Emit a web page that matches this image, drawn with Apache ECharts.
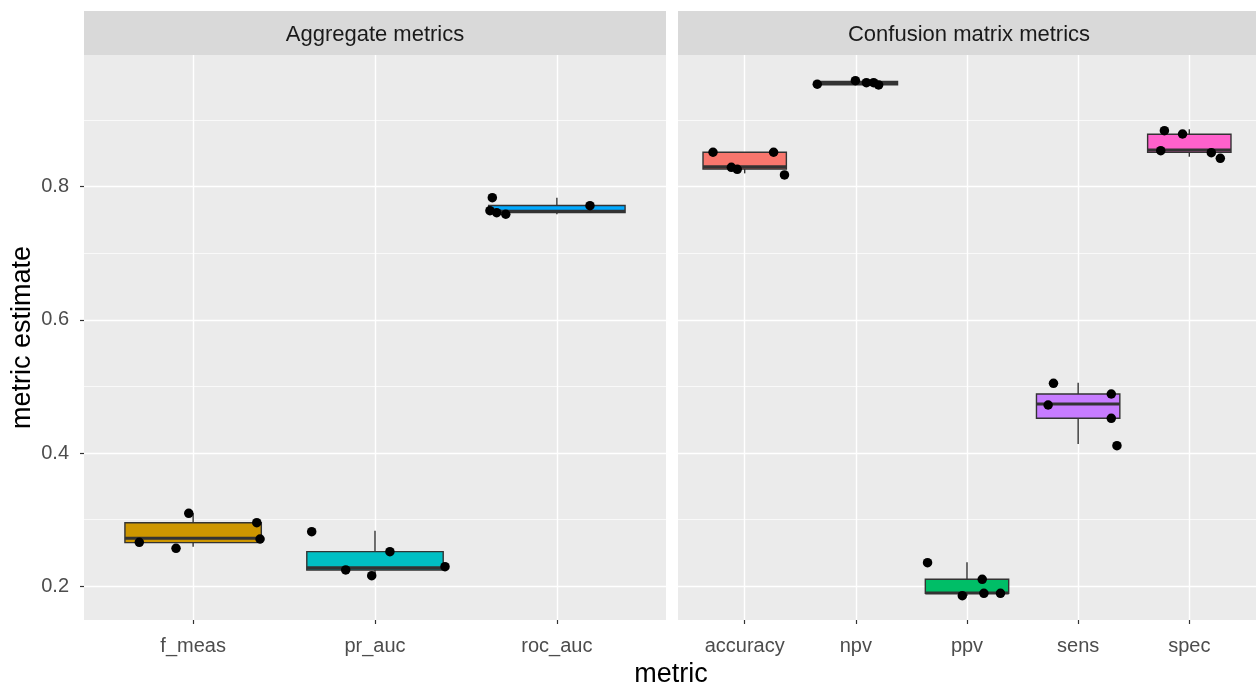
<!DOCTYPE html>
<html>
<head>
<meta charset="utf-8">
<title>metric estimate by metric</title>
<script src="https://cdn.jsdelivr.net/npm/echarts@6/dist/echarts.min.js"></script>
<style>
    html, body { margin: 0; padding: 0; background: #fff; }
    #chart { width: 1256px; height: 686px; }
</style>
</head>
<body>
<div id="chart"></div>
<script>
// panel 1: Aggregate metrics
const aggCats = ['f_meas', 'pr_auc', 'roc_auc'];
const aggFills = ['#CD9600', '#00BFC4', '#00A9FF'];
// [lower whisker, Q1, median, Q3, upper whisker]
const aggBoxes = [
    [0.2595, 0.2655, 0.2721, 0.2955, 0.3096],
    [0.2160, 0.2245, 0.2279, 0.2520, 0.2835],
    [0.7586, 0.7610, 0.7630, 0.7718, 0.7835]
];
const aggPoints = [
    [0.2661, 0.2571, 0.3096, 0.2955, 0.2710],
    [0.2820, 0.2245, 0.2159, 0.2520, 0.2294],
    [0.7835, 0.7640, 0.7610, 0.7586, 0.7715]
];
// horizontal jitter of each point, in category units
const aggJitter = [
    [-0.296, -0.094, -0.024, 0.350, 0.368],
    [-0.348, -0.161, -0.018, 0.082, 0.385],
    [-0.355, -0.368, -0.331, -0.281, 0.182]
];

// panel 2: Confusion matrix metrics
const cmCats = ['accuracy', 'npv', 'ppv', 'sens', 'spec'];
const cmFills = ['#F8766D', '#7CAE00', '#00BE67', '#C77CFF', '#FF61CC'];
const cmBoxes = [
    [0.8200, 0.8266, 0.8300, 0.8517, 0.8517],
    [0.9525, 0.9530, 0.9556, 0.9578, 0.9592],
    [0.1859, 0.1895, 0.1900, 0.2105, 0.2360],
    [0.4137, 0.4522, 0.4737, 0.4887, 0.5057],
    [0.8450, 0.8517, 0.8551, 0.8787, 0.8862]
];
const cmPoints = [
    [0.8517, 0.8291, 0.8261, 0.8517, 0.8176],
    [0.9538, 0.9592, 0.9562, 0.9562, 0.9527],
    [0.2355, 0.1859, 0.2105, 0.1895, 0.1895],
    [0.5048, 0.4722, 0.4887, 0.4522, 0.4111],
    [0.8841, 0.8791, 0.8541, 0.8511, 0.8426]
];
const cmJitter = [
    [-0.285, -0.120, -0.067, 0.260, 0.358],
    [-0.347, -0.004, 0.095, 0.160, 0.205],
    [-0.355, -0.042, 0.137, 0.152, 0.301],
    [-0.222, -0.270, 0.298, 0.298, 0.349],
    [-0.224, -0.061, -0.257, 0.198, 0.279]
];

const majorTicks = [0.2, 0.4, 0.6, 0.8];
const minorTicks = [0.3, 0.5, 0.7, 0.9];
const yMin = 0.1494;
const yMax = 0.9977;

const boxWidth = 0.75;
const fontFamily = '"Liberation Sans", Arial, sans-serif';
const tickFont = 20;
const stripFont = 22;
const titleFont = 27;

const chart = echarts.init(document.getElementById('chart'));

function boxData(boxes) {
    return boxes.map((b, i) => [i + 1].concat(b));
}

function pointData(points, jitter) {
    const out = [];
    points.forEach((vals, i) => {
        vals.forEach((v, j) => {
            out.push([i + 1 + jitter[i][j], v]);
        });
    });
    return out;
}

function makeRenderBox(fills) {
    return function (params, api) {
        const x = api.value(0);
        const lo = api.coord([x, api.value(1)]);
        const q1 = api.coord([x, api.value(2)]);
        const med = api.coord([x, api.value(3)]);
        const q3 = api.coord([x, api.value(4)]);
        const hi = api.coord([x, api.value(5)]);
        const halfW = api.size([boxWidth, 0])[0] / 2;
        const stroke = '#333333';
        return {
            type: 'group',
            children: [
                {
                    type: 'line',
                    shape: { x1: hi[0], y1: hi[1], x2: q3[0], y2: q3[1] },
                    style: { stroke: stroke, lineWidth: 1.4 }
                },
                {
                    type: 'line',
                    shape: { x1: lo[0], y1: lo[1], x2: q1[0], y2: q1[1] },
                    style: { stroke: stroke, lineWidth: 1.4 }
                },
                {
                    type: 'rect',
                    shape: { x: q1[0] - halfW, y: q3[1], width: halfW * 2, height: q1[1] - q3[1] },
                    style: { fill: fills[params.dataIndex], stroke: stroke, lineWidth: 1.4 }
                },
                {
                    type: 'line',
                    shape: { x1: med[0] - halfW, y1: med[1], x2: med[0] + halfW, y2: med[1] },
                    style: { stroke: stroke, lineWidth: 3 }
                }
            ]
        };
    };
}

function xAxisFor(gridIndex, cats) {
    const vals = cats.map((c, i) => i + 1);
    return {
        type: 'value',
        gridIndex: gridIndex,
        min: 0.4,
        max: cats.length + 0.6,
        axisLine: { show: false },
        axisTick: {
            show: true,
            customValues: vals,
            length: 4,
            lineStyle: { color: '#333333', width: 1.2 }
        },
        axisLabel: {
            customValues: vals,
            formatter: (v) => cats[Math.round(v) - 1],
            color: '#4D4D4D',
            fontSize: tickFont,
            fontFamily: fontFamily,
            margin: 16
        },
        splitLine: { show: true, lineStyle: { color: '#FFFFFF', width: 1.4 } }
    };
}

function yMajorAxis(gridIndex, showLabels) {
    return {
        type: 'value',
        gridIndex: gridIndex,
        min: yMin,
        max: yMax,
        position: 'left',
        axisLine: { show: false },
        axisTick: {
            show: showLabels,
            customValues: majorTicks,
            length: 4,
            lineStyle: { color: '#333333', width: 1.2 }
        },
        axisLabel: {
            show: showLabels,
            customValues: majorTicks,
            formatter: (v) => v.toFixed(1),
            color: '#4D4D4D',
            fontSize: tickFont,
            fontFamily: fontFamily,
            margin: 15
        },
        splitLine: { show: true, lineStyle: { color: '#FFFFFF', width: 1.4 } },
        name: showLabels ? 'metric estimate' : '',
        nameLocation: 'middle',
        nameRotate: 90,
        nameGap: 48,
        nameTextStyle: { color: '#000000', fontSize: titleFont, fontFamily: fontFamily }
    };
}

function yMinorAxis(gridIndex) {
    return {
        type: 'value',
        gridIndex: gridIndex,
        min: yMin,
        max: yMax,
        position: 'left',
        axisLine: { show: false },
        axisTick: { show: false, customValues: minorTicks },
        axisLabel: { show: false, customValues: minorTicks },
        splitLine: { show: true, lineStyle: { color: '#FFFFFF', width: 0.7 } }
    };
}

const option = {
    animation: false,
    backgroundColor: '#FFFFFF',
    grid: [
        { left: 84, top: 55, width: 582, height: 565, show: true, backgroundColor: '#EBEBEB', borderWidth: 0 },
        { left: 678, top: 55, width: 582, height: 565, show: true, backgroundColor: '#EBEBEB', borderWidth: 0 }
    ],
    xAxis: [
        xAxisFor(0, aggCats),
        xAxisFor(1, cmCats)
    ],
    yAxis: [
        yMinorAxis(0),
        yMinorAxis(1),
        yMajorAxis(0, true),
        yMajorAxis(1, false)
    ],
    graphic: [
        {
            type: 'rect',
            shape: { x: 84, y: 11, width: 582, height: 44 },
            style: { fill: '#D9D9D9' }
        },
        {
            type: 'rect',
            shape: { x: 678, y: 11, width: 582, height: 44 },
            style: { fill: '#D9D9D9' }
        },
        {
            type: 'text',
            x: 375, y: 35,
            style: {
                text: 'Aggregate metrics', fill: '#1A1A1A', fontSize: stripFont, fontFamily: fontFamily,
                align: 'center', verticalAlign: 'middle'
            }
        },
        {
            type: 'text',
            x: 969, y: 35,
            style: {
                text: 'Confusion matrix metrics', fill: '#1A1A1A', fontSize: stripFont, fontFamily: fontFamily,
                align: 'center', verticalAlign: 'middle'
            }
        },
        {
            type: 'text',
            x: 671, y: 675,
            style: {
                text: 'metric', fill: '#000000', fontSize: titleFont, fontFamily: fontFamily,
                align: 'center', verticalAlign: 'middle'
            }
        }
    ],
    series: [
        {
            type: 'custom',
            xAxisIndex: 0,
            yAxisIndex: 2,
            renderItem: makeRenderBox(aggFills),
            data: boxData(aggBoxes),
            z: 2
        },
        {
            type: 'custom',
            xAxisIndex: 1,
            yAxisIndex: 3,
            renderItem: makeRenderBox(cmFills),
            data: boxData(cmBoxes),
            z: 2
        },
        {
            type: 'scatter',
            xAxisIndex: 0,
            yAxisIndex: 2,
            symbolSize: 9.5,
            itemStyle: { color: '#000000', opacity: 1 },
            data: pointData(aggPoints, aggJitter),
            z: 3
        },
        {
            type: 'scatter',
            xAxisIndex: 1,
            yAxisIndex: 3,
            symbolSize: 9.5,
            itemStyle: { color: '#000000', opacity: 1 },
            data: pointData(cmPoints, cmJitter),
            z: 3
        }
    ]
};

chart.setOption(option);
</script>
</body>
</html>
